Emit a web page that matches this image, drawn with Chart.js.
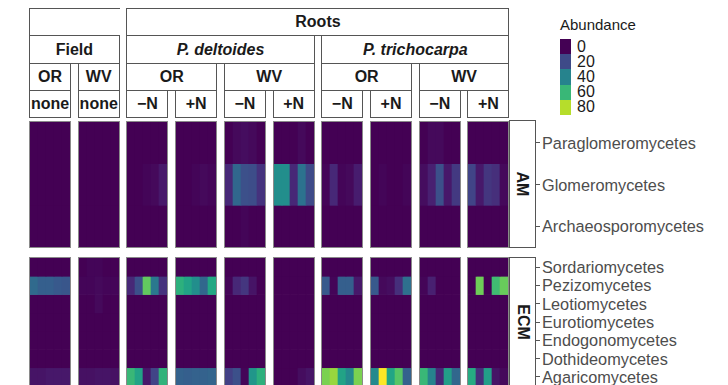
<!DOCTYPE html>
<html><head><meta charset="utf-8">
<script src="https://cdn.jsdelivr.net/npm/chart.js@4/dist/chart.umd.min.js"></script>
<style>
body{margin:0;width:728px;height:385px;overflow:hidden;background:#fff;font-family:"Liberation Sans",Arial,sans-serif;position:relative}
.box{position:absolute;box-sizing:border-box;border:1px solid #555;display:flex;align-items:center;justify-content:center;font-weight:bold;font-size:16px;color:#1a1a1a;background:#fff;white-space:nowrap;overflow:hidden}
.panel{position:absolute;box-sizing:border-box;border:1px solid #8a8a8a;background:#fff}
.panel canvas{display:block}
.lab{position:absolute;font-size:16.3px;color:#4d4d4d;white-space:nowrap;line-height:1;transform:translateY(-50%)}
.tick{position:absolute;width:4px;height:1px;background:#555}
.rot{transform:rotate(90deg);display:inline-block}
</style></head><body>
<script>
// ---------- data ----------
const panelNames = ["Field OR none","Field WV none","P. deltoides OR −N","P. deltoides OR +N","P. deltoides WV −N","P. deltoides WV +N","P. trichocarpa OR −N","P. trichocarpa OR +N","P. trichocarpa WV −N","P. trichocarpa WV +N"];
const samplesPerPanel = 5;
const sampleLabels = ["1","2","3","4","5"];

const tier1 = [["",0,2],["Roots",2,10]];
const tier2 = [["Field",0,2],["P. deltoides",2,6],["P. trichocarpa",6,10]];
const tier3 = [["OR",0,1],["WV",1,2],["OR",2,4],["WV",4,6],["OR",6,8],["WV",8,10]];
const tier4 = [["none",0,1],["none",1,2],["−N",2,3],["+N",3,4],["−N",4,5],["+N",5,6],["−N",6,7],["+N",7,8],["−N",8,9],["+N",9,10]];

const amClasses = ["Paraglomeromycetes","Glomeromycetes","Archaeosporomycetes"];
const ecmClasses = ["Sordariomycetes","Pezizomycetes","Leotiomycetes","Eurotiomycetes","Endogonomycetes","Dothideomycetes","Agaricomycetes"];

// abundance per class, 10 panels x 5 samples
const paraglomeromycetes = [0,0,0,0,0, 0,0,0,0,0, 0,0,0,0,0, 0,0,0,0,0, 0,2,3,2,0, 0,0,0,2,0, 0,0,0,0,0, 0,0,0,0,0, 0,2,2,0,0, 0,0,0,0,0];
const glomeromycetes     = [0,0,0,0,0, 0,0,0,0,0, 0,0,1,2,6, 0,0,1,2,1, 10,30,22,21,13, 44,44,10,34,20, 1,10,1,2,7, 0,1,0,0,1, 3,8,22,6,15, 18,6,14,12,2];
const archaeosporomycetes= [0,0,0,0,0, 0,0,0,0,0, 0,0,0,0,0, 0,0,0,0,0, 0,0,1,0,0, 0,0,0,0,0, 0,0,0,0,0, 0,0,0,0,0, 0,0,0,0,0, 0,0,0,0,0];

const sordariomycetes = [0,0,0,0,0, 0,1,1,0,0, 0,0,0,0,0, 0,0,0,0,0, 0,0,0,0,0, 0,0,0,0,0, 0,0,0,0,0, 0,0,0,0,0, 0,0,0,0,0, 0,0,0,0,0];
const pezizomycetes   = [31,27,27,25,24, 1,1,2,1,1, 10,22,68,36,13, 57,52,44,30,54, 1,10,14,5,0, 0,0,0,0,0, 25,1,27,27,6, 25,2,3,12,33, 1,8,0,0,0, 0,70,0,62,69];
const leotiomycetes   = [0,0,0,0,0, 0,0,2,0,0, 0,0,0,0,0, 0,0,0,0,0, 0,0,0,0,0, 0,0,0,0,0, 0,0,0,0,0, 0,0,0,0,0, 0,0,0,0,0, 0,0,0,0,0];
const eurotiomycetes  = [0,0,0,0,0, 0,0,0,0,0, 0,0,0,0,0, 0,0,0,0,0, 0,0,0,0,0, 0,0,0,0,0, 0,0,0,0,0, 0,0,0,0,0, 0,0,0,0,0, 0,0,0,0,0];
const endogonomycetes = [0,0,0,0,0, 0,0,0,0,0, 0,0,0,0,0, 0,0,0,0,0, 0,0,0,0,0, 0,0,0,0,0, 0,0,0,0,0, 0,0,0,0,0, 0,0,0,0,0, 0,0,0,0,0];
const dothideomycetes = [0,0,0,0,0, 0,0,0,0,0, 0,0,0,0,0, 0,0,0,0,0, 0,0,0,0,0, 0,0,0,0,0, 0,0,0,0,0, 0,0,0,0,0, 0,0,0,0,0, 0,0,0,0,0];
const agaricomycetes  = [5,5,6,6,6, 4,4,5,5,4, 60,52,6,18,58, 28,27,28,28,29, 17,22,1,47,57, 0,0,0,3,5, 72,76,52,42,72, 42,90,53,66,28, 60,40,10,50,30, 55,12,50,5,2];

const legendTitle = "Abundance";
const legendValues = [0,20,40,60,80];
const maxAbundance = 90;

// ---------- helpers ----------
const VIR = ["#440154","#482475","#414487","#355f8d","#2a788e","#21918c","#22a884","#44bf70","#7ad151","#bddf26","#fde725"];
function hex2rgb(h){return [parseInt(h.substr(1,2),16),parseInt(h.substr(3,2),16),parseInt(h.substr(5,2),16)];}
function viridis(v){
  const t=Math.max(0,Math.min(1,v/maxAbundance));
  const p=t*10; const i=Math.min(9,Math.floor(p)); const f=p-i;
  const a=hex2rgb(VIR[i]), b=hex2rgb(VIR[i+1]);
  return "rgb("+a.map((c,k)=>Math.round(c+(b[k]-c)*f)).join(",")+")";
}
function el(cls,style,html){const d=document.createElement("div");d.className=cls;Object.assign(d.style,style);if(html!==undefined)d.innerHTML=html;document.body.appendChild(d);return d;}

const X0=29, PITCH=48.72, PW=42;
const panelLeft = i => X0 + i*PITCH;

// ---------- header strips ----------
const tiers=[[tier1,8,28],[tier2,35,29],[tier3,63,28],[tier4,90,28]];
tiers.forEach(([tier,top,h],ti)=>{
  tier.forEach(([txt,s,e])=>{
    const l=panelLeft(s), r=panelLeft(e-1)+PW;
    const st={left:l+"px",top:top+"px",width:(r-l)+"px",height:h+"px"};
    if(ti===1 && s>0) st.fontStyle="italic";
    if(ti===0 && txt==="") st.borderRight="none";
    el("box",st,txt);
  });
});

// ---------- facets ----------
const facets=[
  {name:"AM",classes:amClasses,values:[paraglomeromycetes,glomeromycetes,archaeosporomycetes],top:121,inner:125,stripTop:120,stripH:128},
  {name:"ECM",classes:ecmClasses,values:[sordariomycetes,pezizomycetes,leotiomycetes,eurotiomycetes,endogonomycetes,dothideomycetes,agaricomycetes],top:257,inner:128,stripTop:257,stripH:130}
];

facets.forEach(f=>{
  for(let p=0;p<panelNames.length;p++){
    const box=el("panel",{left:panelLeft(p)+"px",top:f.top+"px",width:PW+"px",height:(f.inner+2)+"px"});
    const cv=document.createElement("canvas");
    cv.width=PW-2; cv.height=f.inner;
    cv.style.width=(PW-2)+"px"; cv.style.height=f.inner+"px";
    box.appendChild(cv);
    const datasets=f.classes.map((c,r)=>({
      label:c,
      data:sampleLabels.map(()=>1),
      vals:f.values[r].slice(p*samplesPerPanel,(p+1)*samplesPerPanel),
      backgroundColor:ctx=>viridis(ctx.dataset.vals[ctx.dataIndex]),
      borderWidth:0,barPercentage:1,categoryPercentage:1
    }));
    new Chart(cv,{type:"bar",data:{labels:sampleLabels,datasets},
      options:{responsive:false,animation:false,events:[],
        layout:{padding:0},
        plugins:{legend:{display:false},tooltip:{enabled:false}},
        scales:{x:{stacked:true,display:false,offset:true},
                y:{stacked:true,display:false,min:0,max:f.classes.length,reverse:true}}}});
  }
  // right strip
  el("box",{left:"509px",top:f.stripTop+"px",width:"27px",height:f.stripH+"px"},'<span class="rot">'+f.name+'</span>');
  // y labels
  const rowH=f.inner/f.classes.length;
  f.classes.forEach((c,r)=>{
    const y=f.top+1+rowH*(r+0.5);
    el("tick",{left:"536px",top:(y-0.5)+"px"});
    el("lab",{left:"542px",top:y+"px"},c);
  });
});

// ---------- legend ----------
el("lab",{left:"560px",top:"24px",fontSize:"15px",color:"#1a1a1a"},legendTitle);
legendValues.forEach((v,i)=>{
  const top=39+i*15.2;
  el("",{position:"absolute",left:"560px",top:top+"px",width:"11px",height:"15.4px",background:viridis(v)});
  el("lab",{left:"577px",top:(top+7.6)+"px",color:"#1a1a1a",fontSize:"16px"},String(v));
});
</script>
</body></html>
